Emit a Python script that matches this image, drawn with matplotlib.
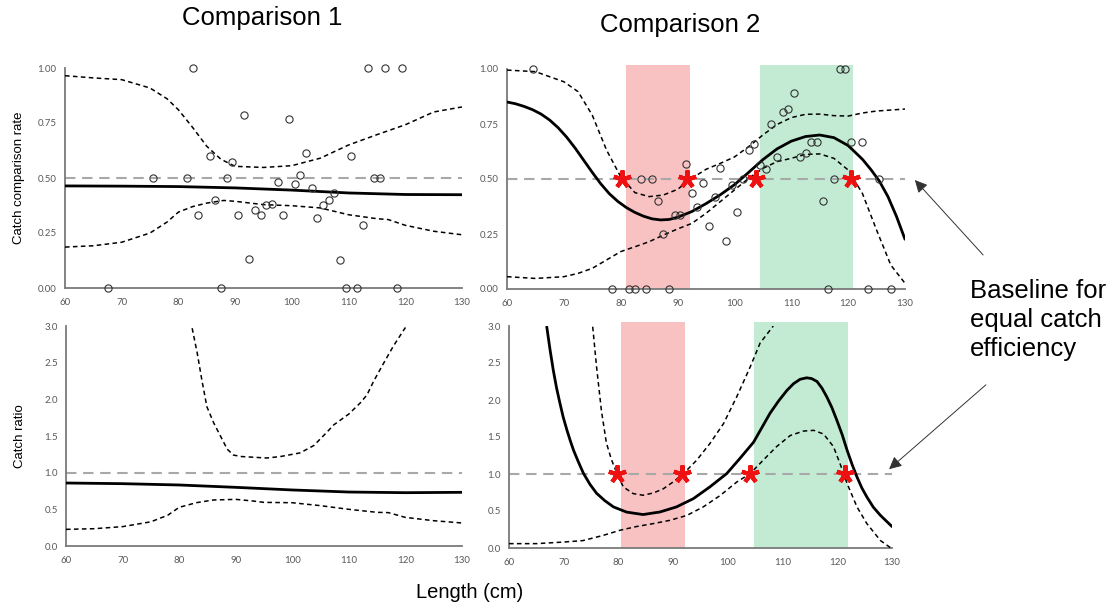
import matplotlib
matplotlib.use("Agg")
import matplotlib.pyplot as plt

# ---------------- data ----------------
x_ticks = [60, 70, 80, 90, 100, 110, 120, 130]
rate_ticks = [0.00, 0.25, 0.50, 0.75, 1.00]
ratio_ticks = [0.0, 0.5, 1.0, 1.5, 2.0, 2.5, 3.0]

# Comparison 1 - catch comparison rate
c1_pts_x = [67.5, 75.5, 81.5, 82.5, 83.5, 85.5, 86.5, 87.5, 88.5, 89.5, 90.5, 91.5, 92.5,
            93.5, 94.5, 95.5, 96.5, 97.5, 98.5, 99.5, 100.5, 101.5, 102.5, 103.5, 104.5,
            105.5, 106.5, 107.5, 108.5, 109.5, 110.5, 111.5, 112.5, 113.5, 114.5, 115.5,
            116.5, 118.5, 119.5]
c1_pts_y = [0.0, 0.50, 0.50, 1.0, 0.333, 0.60, 0.40, 0.0, 0.50, 0.571, 0.333, 0.786, 0.133,
            0.353, 0.333, 0.376, 0.382, 0.48, 0.333, 0.77, 0.471, 0.515, 0.615, 0.456, 0.317,
            0.376, 0.40, 0.43, 0.126, 0.0, 0.60, 0.0, 0.285, 1.0, 0.50, 0.50,
            1.0, 0.0, 1.0]
c1_fit_x = [60, 70, 80, 90, 100, 110, 120, 130]
c1_fit_y = [0.464, 0.463, 0.461, 0.455, 0.445, 0.432, 0.425, 0.424]
c1_up_x = [60, 65, 70, 75, 78, 80, 82.5, 85, 87.5, 90, 95, 100, 105, 110, 115, 120, 125, 130]
c1_up_y = [0.965, 0.955, 0.947, 0.909, 0.86, 0.81, 0.73, 0.644, 0.585, 0.553, 0.548, 0.556,
           0.59, 0.65, 0.697, 0.742, 0.80, 0.823]
c1_lo_x = [60, 65, 70, 75, 78, 80, 82.5, 85, 88, 90, 95, 100, 105, 110, 115, 117, 120, 125, 130]
c1_lo_y = [0.186, 0.192, 0.208, 0.25, 0.30, 0.345, 0.37, 0.386, 0.398, 0.394, 0.379, 0.374,
           0.364, 0.333, 0.315, 0.311, 0.285, 0.258, 0.242]

# Comparison 2 - catch comparison rate
c2_pts_x = [64.5, 78.5, 81.5, 82.5, 83.5, 84.5, 85.5, 86.5, 87.5, 88.5, 89.5, 90.5, 91.5,
            92.5, 93.5, 94.5, 95.5, 96.5, 97.5, 98.5, 99.5, 100.5, 101.5, 102.5, 103.5,
            104.5, 105.5, 106.5, 107.5, 108.5, 109.5, 110.5, 111.5, 112.5, 113.5, 114.5,
            115.5, 116.5, 117.5, 118.5, 119.5, 120.5, 122.5, 123.5, 125.5, 127.5]
c2_pts_y = [1.0, 0.0, 0.0, 0.0, 0.50, 0.0, 0.50, 0.40, 0.25, 0.0, 0.335, 0.335, 0.567,
            0.435, 0.374, 0.483, 0.286, 0.42, 0.55, 0.218, 0.473, 0.35, 0.50, 0.63, 0.658,
            0.564, 0.547, 0.75, 0.60, 0.803, 0.82, 0.89, 0.60, 0.617, 0.668, 0.668,
            0.40, 0.0, 0.50, 1.0, 1.0, 0.668, 0.668, 0.0, 0.50, 0.0]
c2_fit_x = [60, 61.5, 63, 64.5, 66, 67.5, 69, 70.5, 72, 73.5, 75, 76.5, 78, 79.5, 81, 82.5,
            84, 85.5, 87, 88.5, 90, 92.5, 95, 97.5, 100, 102.5, 105, 107.5, 110, 112.5, 115,
            117.5, 120, 122.5, 124, 125.5, 127, 128.5, 130]
c2_fit_y = [0.85, 0.842, 0.830, 0.815, 0.795, 0.768, 0.733, 0.690, 0.640, 0.585, 0.530,
            0.478, 0.433, 0.398, 0.370, 0.348, 0.331, 0.319, 0.314, 0.316, 0.326, 0.352,
            0.388, 0.428, 0.474, 0.530, 0.588, 0.637, 0.672, 0.693, 0.700, 0.688, 0.652,
            0.590, 0.543, 0.490, 0.420, 0.330, 0.226]
c2_up_x = [60, 65, 70, 72.5, 75, 77.5, 80, 82.5, 85, 87.5, 90, 92.5, 95, 97.5, 100, 102.5,
           105, 107.5, 110, 112.5, 115, 117.5, 120, 122.5, 125, 130]
c2_up_y = [0.995, 0.988, 0.942, 0.897, 0.79, 0.632, 0.51, 0.438, 0.42, 0.427, 0.453, 0.503,
           0.544, 0.571, 0.60, 0.647, 0.70, 0.748, 0.779, 0.794, 0.795, 0.788, 0.786, 0.80,
           0.809, 0.818]
c2_lo_x = [60, 65, 70, 72.5, 75, 77.5, 80, 82.5, 85, 87.5, 90, 92.5, 95, 97.5, 100, 102.5,
           105, 107.5, 110, 112.5, 115, 117.5, 120, 122.5, 125, 127.5, 130]
c2_lo_y = [0.056, 0.048, 0.056, 0.071, 0.094, 0.132, 0.17, 0.192, 0.215, 0.245, 0.273, 0.298,
           0.344, 0.397, 0.45, 0.503, 0.548, 0.579, 0.594, 0.612, 0.614, 0.594, 0.541, 0.435,
           0.268, 0.109, 0.026]
c2_red_rate = (80.9, 92.2)
c2_green_rate = (104.5, 120.9)
c2_stars_rate_x = [80.3, 91.7, 103.8, 120.5]

# Comparison 1 - catch ratio
r1_fit_x = [60, 70, 80, 90, 100, 110, 120, 130]
r1_fit_y = [0.859, 0.85, 0.832, 0.80, 0.764, 0.736, 0.727, 0.732]
r1_up_x = [82.3, 83.2, 84.0, 84.9, 86.1, 87.3, 88.5, 89.6, 91.0, 93.2, 95.5, 97.9, 101.4,
           103.8, 106.1, 107.3, 110.0, 112.0, 113.2, 114.4, 116.2, 117.9, 120.0]
r1_up_y = [2.97, 2.63, 2.27, 1.90, 1.68, 1.50, 1.32, 1.24, 1.22, 1.21, 1.20, 1.22, 1.27,
           1.37, 1.55, 1.65, 1.80, 1.95, 2.06, 2.25, 2.50, 2.73, 2.98]
r1_lo_x = [60, 65, 70, 75, 78, 80, 83, 86, 90, 93, 95, 100, 105, 110, 115, 117, 120, 125, 130]
r1_lo_y = [0.227, 0.236, 0.264, 0.33, 0.42, 0.527, 0.59, 0.627, 0.636, 0.614, 0.595, 0.59,
           0.55, 0.50, 0.459, 0.455, 0.39, 0.345, 0.314]

# Comparison 2 - catch ratio
r2_fit_x = [66.9, 67.5, 68.1, 68.7, 69.3, 69.9, 70.6, 71.2, 71.8, 72.7, 73.6, 74.8, 76.0,
            77.5, 79.1, 81.5, 84.5, 87.6, 90.6, 93.7, 96.7, 99.8, 102.2, 104.7, 107.7,
            109.3, 110.8, 112.0, 113.2, 114.4, 115.3, 116.3, 117.2, 118.1, 119.0, 119.9,
            120.9, 121.8, 122.7, 123.6, 124.5, 125.4, 126.6, 127.9, 130]
r2_fit_y = [2.99, 2.68, 2.40, 2.16, 1.96, 1.77, 1.59, 1.45, 1.32, 1.16, 1.01, 0.86, 0.74,
            0.64, 0.555, 0.485, 0.452, 0.487, 0.555, 0.667, 0.825, 1.006, 1.21, 1.43, 1.82,
            1.99, 2.13, 2.22, 2.28, 2.30, 2.29, 2.25, 2.16, 2.04, 1.90, 1.73, 1.53, 1.32,
            1.13, 0.96, 0.81, 0.69, 0.55, 0.44, 0.29]
r2_up_x = [75.3, 76.0, 76.9, 77.8, 78.7, 79.7, 80.9, 82.7, 84.5, 86.4, 88.2, 90.0, 91.9,
           94.3, 96.7, 99.2, 101.6, 104.1, 105.9, 108.3]
r2_up_y = [2.99, 2.45, 1.85, 1.42, 1.20, 1.01, 0.825, 0.735, 0.713, 0.744, 0.80, 0.893,
           1.006, 1.186, 1.41, 1.68, 2.04, 2.45, 2.77, 3.0]
r2_lo_x = [60, 65, 69.9, 73.5, 77.2, 80.3, 83.3, 86.4, 89.4, 92.5, 95.5, 98.6, 101.6, 104.1,
           106.5, 108.9, 111.4, 113.8, 115.7, 117.5, 119.3, 120.5, 121.8, 123.6, 125.4,
           127.9, 129.7]
r2_lo_y = [0.059, 0.059, 0.08, 0.10, 0.17, 0.24, 0.29, 0.33, 0.374, 0.44, 0.555, 0.71, 0.89,
           1.006, 1.19, 1.37, 1.52, 1.58, 1.59, 1.54, 1.37, 1.14, 0.87, 0.555, 0.33, 0.10,
           0.005]
r2_red_ratio = (80.4, 92.2)
r2_green_ratio = (104.8, 121.9)
r2_stars_ratio_x = [79.7, 91.6, 104.1, 121.5]

# ---------------- styling ----------------
W, H = 1120, 610
fig = plt.figure(figsize=(W / 100, H / 100), dpi=100)
TICKFONT = ["Lato", "DejaVu Sans"]
SANS = ["Liberation Sans", "DejaVu Sans"]
SPINE = "#7a7a7a"
TICKC = "#595959"
RED = "#f9c2c2"
GREEN = "#c3ebd4"


def make_ax(x0, x1, ytop, ybot):
    ax = fig.add_axes([x0 / W, 1 - ybot / H, (x1 - x0) / W, (ybot - ytop) / H])
    for s in ("top", "right"):
        ax.spines[s].set_visible(False)
    for s in ("left", "bottom"):
        ax.spines[s].set_color(SPINE)
        ax.spines[s].set_linewidth(1.3)
    ax.tick_params(length=0, labelsize=7, colors=TICKC, pad=6)
    ax.set_xlim(60, 130)
    ax.set_xticks(x_ticks)
    return ax


def style_ticks(ax, yt, fmt):
    ax.set_yticks(yt)
    ax.set_yticklabels([fmt.format(v) for v in yt], family=TICKFONT)
    ax.set_xticklabels([str(v) for v in x_ticks], family=TICKFONT)
    ax.tick_params(axis="x", pad=7)


def curves(ax, fx, fy, ux, uy, lx, ly):
    ax.plot(fx, fy, color="black", lw=2.0, zorder=4, solid_capstyle="round",
            solid_joinstyle="round")
    for xx, yy in ((ux, uy), (lx, ly)):
        ax.plot(xx, yy, color="black", lw=1.1, dashes=(3, 2.2), zorder=4)


def baseline(ax, y):
    ax.axhline(y, color="#a8a8a8", lw=1.5, dashes=(5, 3.2), zorder=2)


def points(ax, px, py):
    ax.plot(px, py, ls="none", marker="o", ms=5.2, mfc="none", mec="#333333", mew=0.8,
            clip_on=False, zorder=5)


def stars(ax, sx, y):
    ax.plot(sx, [y] * len(sx), ls="none", marker=(5, 2, 0), ms=13, mew=3.0, color="#ee1111",
            zorder=6, clip_on=False)


def shade(ax, span, color):
    ax.axvspan(span[0], span[1], ymin=0, ymax=1.02, color=color, lw=0, zorder=1, clip_on=False)


# Top-left
ax1 = make_ax(65, 462, 68, 288)
ax1.set_ylim(0, 1.0)
style_ticks(ax1, rate_ticks, "{:.2f}")
baseline(ax1, 0.5)
curves(ax1, c1_fit_x, c1_fit_y, c1_up_x, c1_up_y, c1_lo_x, c1_lo_y)
points(ax1, c1_pts_x, c1_pts_y)
ax1.set_ylabel("Catch comparison rate", family=SANS, fontsize=9.5, labelpad=9)

# Top-right
ax2 = make_ax(507, 905, 69, 289)
ax2.set_ylim(0, 1.0)
style_ticks(ax2, rate_ticks, "{:.2f}")
shade(ax2, c2_red_rate, RED)
shade(ax2, c2_green_rate, GREEN)
baseline(ax2, 0.5)
curves(ax2, c2_fit_x, c2_fit_y, c2_up_x, c2_up_y, c2_lo_x, c2_lo_y)
points(ax2, c2_pts_x, c2_pts_y)
stars(ax2, c2_stars_rate_x, 0.5)

# Bottom-left
ax3 = make_ax(66, 462, 326, 546)
ax3.set_ylim(0, 3.0)
style_ticks(ax3, ratio_ticks, "{:.1f}")
baseline(ax3, 1.0)
curves(ax3, r1_fit_x, r1_fit_y, r1_up_x, r1_up_y, r1_lo_x, r1_lo_y)
ax3.set_ylabel("Catch ratio", family=SANS, fontsize=9.5, labelpad=13)

# Bottom-right
ax4 = make_ax(509, 892, 326, 548)
ax4.set_ylim(0, 3.0)
style_ticks(ax4, ratio_ticks, "{:.1f}")
shade(ax4, r2_red_ratio, RED)
shade(ax4, r2_green_ratio, GREEN)
baseline(ax4, 1.0)
curves(ax4, r2_fit_x, r2_fit_y, r2_up_x, r2_up_y, r2_lo_x, r2_lo_y)
stars(ax4, r2_stars_ratio_x, 1.0)

# Figure texts
fig.text(262 / W, 1 - 18 / H, "Comparison 1", ha="center", va="center", fontsize=18.5,
         family=SANS)
fig.text(680 / W, 1 - 25 / H, "Comparison 2", ha="center", va="center", fontsize=18.5,
         family=SANS)
fig.text(470 / W, 1 - 593 / H, "Length (cm)", ha="center", va="center", fontsize=14.5,
         family=SANS)
fig.text(970 / W, 1 - 320 / H, "Baseline for\nequal catch\nefficiency", ha="left",
         va="center", fontsize=18.5, family=SANS, linespacing=1.25)

for (sx, sy), (ex, ey) in (((985, 257), (913, 178)), ((988, 383), (887, 471))):
    fig.add_artist(matplotlib.patches.FancyArrowPatch(
        (sx / W, 1 - sy / H), (ex / W, 1 - ey / H), transform=fig.transFigure,
        arrowstyle="-|>,head_length=5,head_width=2.5", color="#333333", lw=0.7,
        mutation_scale=1.5))

fig.savefig("out.png", dpi=100)
